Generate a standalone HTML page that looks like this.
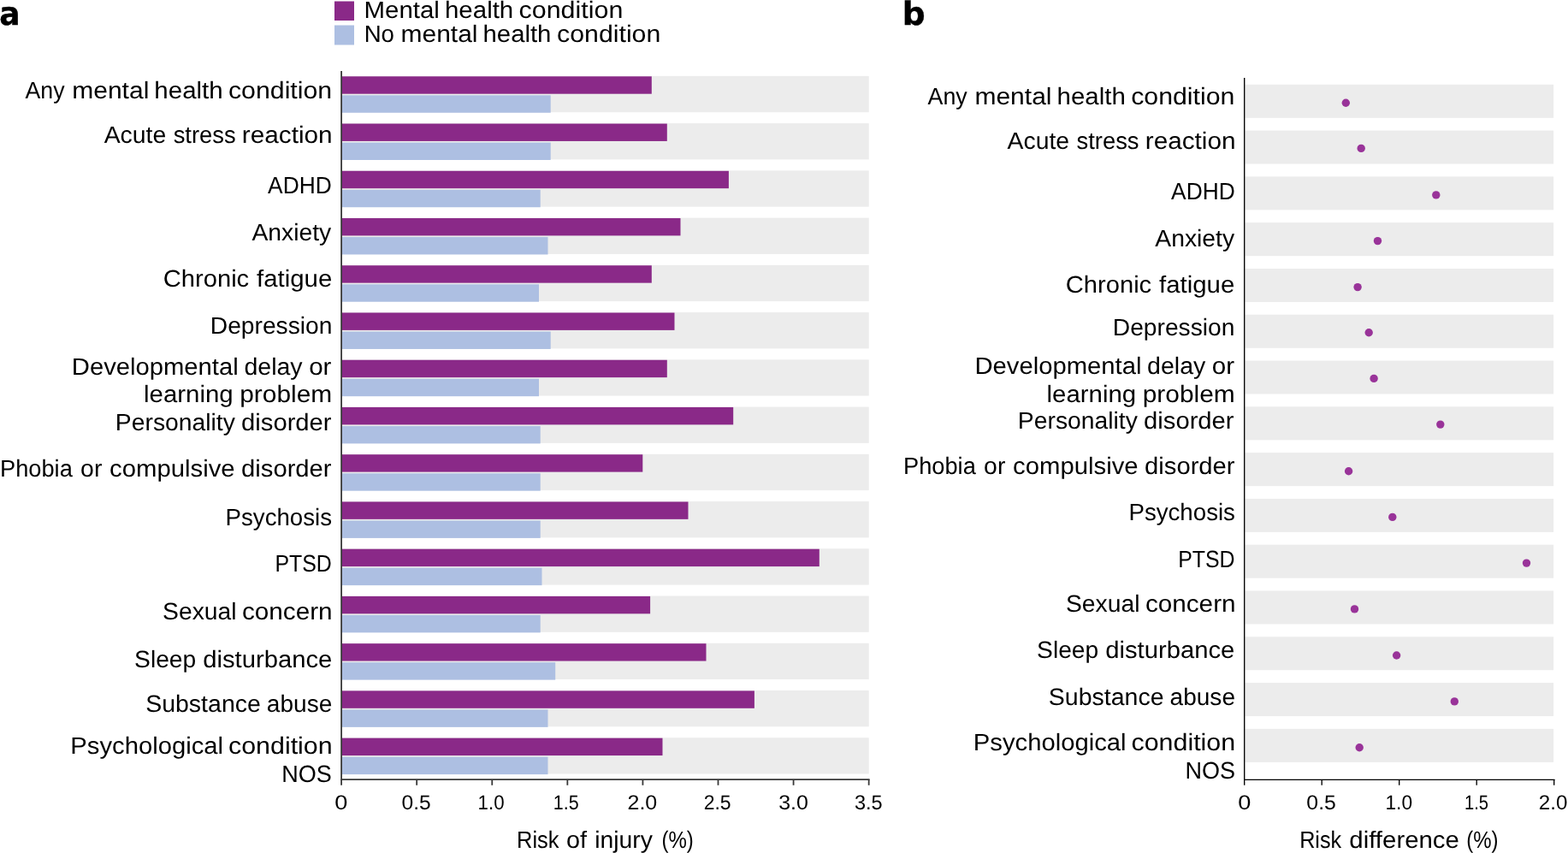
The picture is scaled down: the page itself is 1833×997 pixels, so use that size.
<!DOCTYPE html>
<html lang="en">
<head>
<meta charset="utf-8">
<title>Risk of injury by mental health condition</title>
<style>
html,body{margin:0;padding:0;background:#fff;}
body{width:1833px;height:997px;overflow:hidden;}
svg{display:block;position:absolute;left:0;top:0;}
text{font-family:'Liberation Sans', sans-serif;fill:#000;text-rendering:geometricPrecision;}
</style>
</head>
<body>
<svg width="1833" height="997" viewBox="0 0 1833 997">
<rect x="0" y="0" width="1833" height="997" fill="#ffffff"/>
<g id="panel-a">
<rect x="399.1" y="88.90" width="616.6" height="42.3" fill="#ececec"/>
<rect x="399.1" y="89.30" width="362.7" height="20.4" fill="#8a2988"/>
<rect x="399.1" y="111.35" width="244.6" height="20.4" fill="#adbfe2"/>
<rect x="399.1" y="144.14" width="616.6" height="42.3" fill="#ececec"/>
<rect x="399.1" y="144.54" width="380.7" height="20.4" fill="#8a2988"/>
<rect x="399.1" y="166.59" width="244.6" height="20.4" fill="#adbfe2"/>
<rect x="399.1" y="199.38" width="616.6" height="42.3" fill="#ececec"/>
<rect x="399.1" y="199.78" width="452.8" height="20.4" fill="#8a2988"/>
<rect x="399.1" y="221.83" width="232.6" height="20.4" fill="#adbfe2"/>
<rect x="399.1" y="254.62" width="616.6" height="42.3" fill="#ececec"/>
<rect x="399.1" y="255.02" width="396.4" height="20.4" fill="#8a2988"/>
<rect x="399.1" y="277.07" width="241.4" height="20.4" fill="#adbfe2"/>
<rect x="399.1" y="309.86" width="616.6" height="42.3" fill="#ececec"/>
<rect x="399.1" y="310.26" width="362.7" height="20.4" fill="#8a2988"/>
<rect x="399.1" y="332.31" width="230.9" height="20.4" fill="#adbfe2"/>
<rect x="399.1" y="365.10" width="616.6" height="42.3" fill="#ececec"/>
<rect x="399.1" y="365.50" width="389.4" height="20.4" fill="#8a2988"/>
<rect x="399.1" y="387.55" width="244.6" height="20.4" fill="#adbfe2"/>
<rect x="399.1" y="420.34" width="616.6" height="42.3" fill="#ececec"/>
<rect x="399.1" y="420.74" width="380.7" height="20.4" fill="#8a2988"/>
<rect x="399.1" y="442.79" width="230.9" height="20.4" fill="#adbfe2"/>
<rect x="399.1" y="475.58" width="616.6" height="42.3" fill="#ececec"/>
<rect x="399.1" y="475.98" width="458.1" height="20.4" fill="#8a2988"/>
<rect x="399.1" y="498.03" width="232.6" height="20.4" fill="#adbfe2"/>
<rect x="399.1" y="530.82" width="616.6" height="42.3" fill="#ececec"/>
<rect x="399.1" y="531.22" width="352.2" height="20.4" fill="#8a2988"/>
<rect x="399.1" y="553.27" width="232.6" height="20.4" fill="#adbfe2"/>
<rect x="399.1" y="586.06" width="616.6" height="42.3" fill="#ececec"/>
<rect x="399.1" y="586.46" width="405.4" height="20.4" fill="#8a2988"/>
<rect x="399.1" y="608.51" width="232.6" height="20.4" fill="#adbfe2"/>
<rect x="399.1" y="641.30" width="616.6" height="42.3" fill="#ececec"/>
<rect x="399.1" y="641.70" width="558.7" height="20.4" fill="#8a2988"/>
<rect x="399.1" y="663.75" width="234.4" height="20.4" fill="#adbfe2"/>
<rect x="399.1" y="696.54" width="616.6" height="42.3" fill="#ececec"/>
<rect x="399.1" y="696.94" width="361.0" height="20.4" fill="#8a2988"/>
<rect x="399.1" y="718.99" width="232.6" height="20.4" fill="#adbfe2"/>
<rect x="399.1" y="751.78" width="616.6" height="42.3" fill="#ececec"/>
<rect x="399.1" y="752.18" width="426.4" height="20.4" fill="#8a2988"/>
<rect x="399.1" y="774.23" width="250.1" height="20.4" fill="#adbfe2"/>
<rect x="399.1" y="807.02" width="616.6" height="42.3" fill="#ececec"/>
<rect x="399.1" y="807.42" width="482.8" height="20.4" fill="#8a2988"/>
<rect x="399.1" y="829.47" width="241.4" height="20.4" fill="#adbfe2"/>
<rect x="399.1" y="862.26" width="616.6" height="42.3" fill="#ececec"/>
<rect x="399.1" y="862.66" width="375.4" height="20.4" fill="#8a2988"/>
<rect x="399.1" y="884.71" width="241.4" height="20.4" fill="#adbfe2"/>
<path d="M399.1 83 V911.2 H1016.6" fill="none" stroke="#383838" stroke-width="1.8"/>
<path d="M399.10 911 V917.8" fill="none" stroke="#383838" stroke-width="1.8"/>
<path d="M487.18 911 V917.8" fill="none" stroke="#383838" stroke-width="1.8"/>
<path d="M575.26 911 V917.8" fill="none" stroke="#383838" stroke-width="1.8"/>
<path d="M663.34 911 V917.8" fill="none" stroke="#383838" stroke-width="1.8"/>
<path d="M751.42 911 V917.8" fill="none" stroke="#383838" stroke-width="1.8"/>
<path d="M839.50 911 V917.8" fill="none" stroke="#383838" stroke-width="1.8"/>
<path d="M927.58 911 V917.8" fill="none" stroke="#383838" stroke-width="1.8"/>
<path d="M1015.66 911 V917.8" fill="none" stroke="#383838" stroke-width="1.8"/>
</g>
<rect x="391" y="1.5" width="23" height="22.5" fill="#8a2988"/>
<rect x="391" y="29.5" width="23" height="23" fill="#adbfe2"/>
<g id="panel-b">
<rect x="1455.5" y="98.80" width="360.6" height="39.0" fill="#ececec"/>
<rect x="1455.5" y="152.59" width="360.6" height="39.0" fill="#ececec"/>
<rect x="1455.5" y="206.38" width="360.6" height="39.0" fill="#ececec"/>
<rect x="1455.5" y="260.17" width="360.6" height="39.0" fill="#ececec"/>
<rect x="1455.5" y="313.96" width="360.6" height="39.0" fill="#ececec"/>
<rect x="1455.5" y="367.75" width="360.6" height="39.0" fill="#ececec"/>
<rect x="1455.5" y="421.54" width="360.6" height="39.0" fill="#ececec"/>
<rect x="1455.5" y="475.33" width="360.6" height="39.0" fill="#ececec"/>
<rect x="1455.5" y="529.12" width="360.6" height="39.0" fill="#ececec"/>
<rect x="1455.5" y="582.91" width="360.6" height="39.0" fill="#ececec"/>
<rect x="1455.5" y="636.70" width="360.6" height="39.0" fill="#ececec"/>
<rect x="1455.5" y="690.49" width="360.6" height="39.0" fill="#ececec"/>
<rect x="1455.5" y="744.28" width="360.6" height="39.0" fill="#ececec"/>
<rect x="1455.5" y="798.07" width="360.6" height="39.0" fill="#ececec"/>
<rect x="1455.5" y="851.86" width="360.6" height="39.0" fill="#ececec"/>
<circle cx="1573.3" cy="120.3" r="4.7" fill="#993399"/>
<circle cx="1591.2" cy="173.4" r="4.7" fill="#993399"/>
<circle cx="1678.8" cy="227.9" r="4.7" fill="#993399"/>
<circle cx="1610.5" cy="281.6" r="4.7" fill="#993399"/>
<circle cx="1587.1" cy="335.6" r="4.7" fill="#993399"/>
<circle cx="1600.2" cy="388.7" r="4.7" fill="#993399"/>
<circle cx="1606.1" cy="442.4" r="4.7" fill="#993399"/>
<circle cx="1683.8" cy="496.1" r="4.7" fill="#993399"/>
<circle cx="1576.6" cy="550.7" r="4.7" fill="#993399"/>
<circle cx="1627.8" cy="604.4" r="4.7" fill="#993399"/>
<circle cx="1784.5" cy="658.1" r="4.7" fill="#993399"/>
<circle cx="1583.5" cy="711.9" r="4.7" fill="#993399"/>
<circle cx="1632.6" cy="766.0" r="4.7" fill="#993399"/>
<circle cx="1700.3" cy="819.9" r="4.7" fill="#993399"/>
<circle cx="1589.2" cy="873.8" r="4.7" fill="#993399"/>
<path d="M1454.7 91 V911.3 H1817.5" fill="none" stroke="#000000" stroke-width="1.35"/>
<path d="M1454.70 911 V917.8" fill="none" stroke="#000000" stroke-width="1.35"/>
<path d="M1545.20 911 V917.8" fill="none" stroke="#000000" stroke-width="1.35"/>
<path d="M1635.70 911 V917.8" fill="none" stroke="#000000" stroke-width="1.35"/>
<path d="M1726.20 911 V917.8" fill="none" stroke="#000000" stroke-width="1.35"/>
<path d="M1816.70 911 V917.8" fill="none" stroke="#000000" stroke-width="1.35"/>
</g>
<g id="legend-text">
<text y="20.80" font-size="27.8"><tspan x="425.49" textLength="88.42" lengthAdjust="spacingAndGlyphs">Mental</tspan> <tspan x="519.99" textLength="80.27" lengthAdjust="spacingAndGlyphs">health</tspan> <tspan x="606.58" textLength="121.74" lengthAdjust="spacingAndGlyphs">condition</tspan></text>
<text y="48.90" font-size="27.8"><tspan x="425.64" textLength="35.31" lengthAdjust="spacingAndGlyphs">No</tspan> <tspan x="468.50" textLength="90.04" lengthAdjust="spacingAndGlyphs">mental</tspan> <tspan x="564.50" textLength="79.95" lengthAdjust="spacingAndGlyphs">health</tspan> <tspan x="651.09" textLength="121.22" lengthAdjust="spacingAndGlyphs">condition</tspan></text>
</g>
<g id="labels-a">
<text y="115.00" font-size="27.8"><tspan x="29.42" textLength="46.12" lengthAdjust="spacingAndGlyphs">Any</tspan> <tspan x="84.20" textLength="90.15" lengthAdjust="spacingAndGlyphs">mental</tspan> <tspan x="180.39" textLength="80.27" lengthAdjust="spacingAndGlyphs">health</tspan> <tspan x="266.99" textLength="121.22" lengthAdjust="spacingAndGlyphs">condition</tspan></text>
<text y="167.00" font-size="27.8"><tspan x="121.71" textLength="72.54" lengthAdjust="spacingAndGlyphs">Acute</tspan> <tspan x="202.63" textLength="73.04" lengthAdjust="spacingAndGlyphs">stress</tspan> <tspan x="282.82" textLength="105.85" lengthAdjust="spacingAndGlyphs">reaction</tspan></text>
<text y="226.10" font-size="27.8"><tspan x="313.09" textLength="74.60" lengthAdjust="spacingAndGlyphs">ADHD</tspan></text>
<text y="280.80" font-size="27.8"><tspan x="294.41" textLength="92.76" lengthAdjust="spacingAndGlyphs">Anxiety</tspan></text>
<text y="335.00" font-size="27.8"><tspan x="190.79" textLength="100.41" lengthAdjust="spacingAndGlyphs">Chronic</tspan> <tspan x="300.11" textLength="88.19" lengthAdjust="spacingAndGlyphs">fatigue</tspan></text>
<text y="389.70" font-size="27.8"><tspan x="245.79" textLength="142.64" lengthAdjust="spacingAndGlyphs">Depression</tspan></text>
<text y="437.80" font-size="27.8"><tspan x="83.81" textLength="194.95" lengthAdjust="spacingAndGlyphs">Developmental</tspan> <tspan x="285.41" textLength="68.20" lengthAdjust="spacingAndGlyphs">delay</tspan> <tspan x="361.17" textLength="26.30" lengthAdjust="spacingAndGlyphs">or</tspan></text>
<text y="469.90" font-size="27.8"><tspan x="168.04" textLength="104.57" lengthAdjust="spacingAndGlyphs">learning</tspan> <tspan x="280.21" textLength="108.07" lengthAdjust="spacingAndGlyphs">problem</tspan></text>
<text y="503.00" font-size="27.8"><tspan x="134.89" textLength="139.96" lengthAdjust="spacingAndGlyphs">Personality</tspan> <tspan x="282.08" textLength="105.49" lengthAdjust="spacingAndGlyphs">disorder</tspan></text>
<text y="557.20" font-size="27.8"><tspan x="0.07" textLength="84.75" lengthAdjust="spacingAndGlyphs">Phobia</tspan> <tspan x="94.11" textLength="25.24" lengthAdjust="spacingAndGlyphs">or</tspan> <tspan x="128.13" textLength="146.45" lengthAdjust="spacingAndGlyphs">compulsive</tspan> <tspan x="282.08" textLength="105.49" lengthAdjust="spacingAndGlyphs">disorder</tspan></text>
<text y="614.00" font-size="27.8"><tspan x="263.54" textLength="124.52" lengthAdjust="spacingAndGlyphs">Psychosis</tspan></text>
<text y="668.30" font-size="27.8"><tspan x="321.46" textLength="66.36" lengthAdjust="spacingAndGlyphs">PTSD</tspan></text>
<text y="723.80" font-size="27.8"><tspan x="190.08" textLength="86.49" lengthAdjust="spacingAndGlyphs">Sexual</tspan> <tspan x="283.01" textLength="105.65" lengthAdjust="spacingAndGlyphs">concern</tspan></text>
<text y="779.80" font-size="27.8"><tspan x="157.08" textLength="72.17" lengthAdjust="spacingAndGlyphs">Sleep</tspan> <tspan x="237.18" textLength="151.18" lengthAdjust="spacingAndGlyphs">disturbance</tspan></text>
<text y="831.90" font-size="27.8"><tspan x="170.17" textLength="134.68" lengthAdjust="spacingAndGlyphs">Substance</tspan> <tspan x="311.89" textLength="76.41" lengthAdjust="spacingAndGlyphs">abuse</tspan></text>
<text y="880.60" font-size="27.8"><tspan x="82.31" textLength="178.72" lengthAdjust="spacingAndGlyphs">Psychological</tspan> <tspan x="266.98" textLength="121.74" lengthAdjust="spacingAndGlyphs">condition</tspan></text>
<text y="913.90" font-size="27.8"><tspan x="329.19" textLength="58.53" lengthAdjust="spacingAndGlyphs">NOS</tspan></text>
</g>
<g id="labels-b">
<text y="122.00" font-size="27.8"><tspan x="1084.62" textLength="46.12" lengthAdjust="spacingAndGlyphs">Any</tspan> <tspan x="1139.40" textLength="90.15" lengthAdjust="spacingAndGlyphs">mental</tspan> <tspan x="1235.59" textLength="80.27" lengthAdjust="spacingAndGlyphs">health</tspan> <tspan x="1322.19" textLength="121.22" lengthAdjust="spacingAndGlyphs">condition</tspan></text>
<text y="174.00" font-size="27.8"><tspan x="1177.61" textLength="72.54" lengthAdjust="spacingAndGlyphs">Acute</tspan> <tspan x="1258.53" textLength="73.04" lengthAdjust="spacingAndGlyphs">stress</tspan> <tspan x="1338.72" textLength="105.85" lengthAdjust="spacingAndGlyphs">reaction</tspan></text>
<text y="233.10" font-size="27.8"><tspan x="1369.09" textLength="74.60" lengthAdjust="spacingAndGlyphs">ADHD</tspan></text>
<text y="287.80" font-size="27.8"><tspan x="1350.31" textLength="92.76" lengthAdjust="spacingAndGlyphs">Anxiety</tspan></text>
<text y="341.60" font-size="27.8"><tspan x="1245.79" textLength="100.41" lengthAdjust="spacingAndGlyphs">Chronic</tspan> <tspan x="1355.11" textLength="88.19" lengthAdjust="spacingAndGlyphs">fatigue</tspan></text>
<text y="391.90" font-size="27.8"><tspan x="1300.79" textLength="142.64" lengthAdjust="spacingAndGlyphs">Depression</tspan></text>
<text y="436.70" font-size="27.8"><tspan x="1139.51" textLength="194.95" lengthAdjust="spacingAndGlyphs">Developmental</tspan> <tspan x="1341.11" textLength="68.20" lengthAdjust="spacingAndGlyphs">delay</tspan> <tspan x="1416.87" textLength="26.30" lengthAdjust="spacingAndGlyphs">or</tspan></text>
<text y="469.50" font-size="27.8"><tspan x="1223.54" textLength="104.57" lengthAdjust="spacingAndGlyphs">learning</tspan> <tspan x="1335.71" textLength="108.07" lengthAdjust="spacingAndGlyphs">problem</tspan></text>
<text y="500.80" font-size="27.8"><tspan x="1189.89" textLength="139.96" lengthAdjust="spacingAndGlyphs">Personality</tspan> <tspan x="1337.08" textLength="105.49" lengthAdjust="spacingAndGlyphs">disorder</tspan></text>
<text y="553.90" font-size="27.8"><tspan x="1056.07" textLength="84.75" lengthAdjust="spacingAndGlyphs">Phobia</tspan> <tspan x="1150.11" textLength="25.24" lengthAdjust="spacingAndGlyphs">or</tspan> <tspan x="1184.13" textLength="146.45" lengthAdjust="spacingAndGlyphs">compulsive</tspan> <tspan x="1338.08" textLength="105.49" lengthAdjust="spacingAndGlyphs">disorder</tspan></text>
<text y="607.90" font-size="27.8"><tspan x="1319.44" textLength="124.52" lengthAdjust="spacingAndGlyphs">Psychosis</tspan></text>
<text y="662.80" font-size="27.8"><tspan x="1377.16" textLength="66.36" lengthAdjust="spacingAndGlyphs">PTSD</tspan></text>
<text y="714.60" font-size="27.8"><tspan x="1245.98" textLength="86.49" lengthAdjust="spacingAndGlyphs">Sexual</tspan> <tspan x="1338.91" textLength="105.65" lengthAdjust="spacingAndGlyphs">concern</tspan></text>
<text y="768.90" font-size="27.8"><tspan x="1212.08" textLength="72.17" lengthAdjust="spacingAndGlyphs">Sleep</tspan> <tspan x="1292.18" textLength="151.18" lengthAdjust="spacingAndGlyphs">disturbance</tspan></text>
<text y="823.50" font-size="27.8"><tspan x="1225.87" textLength="134.68" lengthAdjust="spacingAndGlyphs">Substance</tspan> <tspan x="1367.59" textLength="76.41" lengthAdjust="spacingAndGlyphs">abuse</tspan></text>
<text y="876.70" font-size="27.8"><tspan x="1137.81" textLength="178.72" lengthAdjust="spacingAndGlyphs">Psychological</tspan> <tspan x="1322.48" textLength="121.74" lengthAdjust="spacingAndGlyphs">condition</tspan></text>
<text y="909.50" font-size="27.8"><tspan x="1385.49" textLength="58.53" lengthAdjust="spacingAndGlyphs">NOS</tspan></text>
</g>
<g id="ticks-a">
<text y="945.90" font-size="23.8"><tspan x="391.26" textLength="15.10" lengthAdjust="spacingAndGlyphs">0</tspan></text>
<text y="945.90" font-size="23.8"><tspan x="469.52" textLength="34.22" lengthAdjust="spacingAndGlyphs">0.5</tspan></text>
<text y="945.90" font-size="23.8"><tspan x="558.58" textLength="30.97" lengthAdjust="spacingAndGlyphs">1.0</tspan></text>
<text y="945.90" font-size="23.8"><tspan x="646.84" textLength="29.87" lengthAdjust="spacingAndGlyphs">1.5</tspan></text>
<text y="945.90" font-size="23.8"><tspan x="733.50" textLength="34.75" lengthAdjust="spacingAndGlyphs">2.0</tspan></text>
<text y="945.90" font-size="23.8"><tspan x="822.70" textLength="31.97" lengthAdjust="spacingAndGlyphs">2.5</tspan></text>
<text y="945.90" font-size="23.8"><tspan x="910.15" textLength="34.70" lengthAdjust="spacingAndGlyphs">3.0</tspan></text>
<text y="945.90" font-size="23.8"><tspan x="999.01" textLength="32.68" lengthAdjust="spacingAndGlyphs">3.5</tspan></text>
</g>
<g id="ticks-b">
<text y="945.80" font-size="23.8"><tspan x="1447.16" textLength="15.10" lengthAdjust="spacingAndGlyphs">0</tspan></text>
<text y="945.80" font-size="23.8"><tspan x="1527.36" textLength="34.49" lengthAdjust="spacingAndGlyphs">0.5</tspan></text>
<text y="945.80" font-size="23.8"><tspan x="1619.44" textLength="31.62" lengthAdjust="spacingAndGlyphs">1.0</tspan></text>
<text y="945.80" font-size="23.8"><tspan x="1711.94" textLength="28.02" lengthAdjust="spacingAndGlyphs">1.5</tspan></text>
<text y="945.80" font-size="23.8"><tspan x="1798.84" textLength="33.58" lengthAdjust="spacingAndGlyphs">2.0</tspan></text>
</g>
<g id="axis-titles">
<text y="990.80" font-size="27.8"><tspan x="604.01" textLength="49.52" lengthAdjust="spacingAndGlyphs">Risk</tspan> <tspan x="662.10" textLength="24.02" lengthAdjust="spacingAndGlyphs">of</tspan> <tspan x="695.21" textLength="67.67" lengthAdjust="spacingAndGlyphs">injury</tspan> <tspan x="773.41" textLength="37.39" lengthAdjust="spacingAndGlyphs">(%)</tspan></text>
<text y="990.60" font-size="27.8"><tspan x="1519.13" textLength="49.10" lengthAdjust="spacingAndGlyphs">Risk</tspan> <tspan x="1577.37" textLength="128.56" lengthAdjust="spacingAndGlyphs">difference</tspan> <tspan x="1714.21" textLength="37.28" lengthAdjust="spacingAndGlyphs">(%)</tspan></text>
</g>
<g font-family="'DejaVu Sans', 'Liberation Sans', sans-serif" font-weight="bold" font-size="37.6" stroke="#000" stroke-width="0.4">
<text transform="translate(-0.7 29) scale(0.96 1)" style="font-family:inherit">a</text>
<text x="1054.7" y="29" style="font-family:inherit">b</text>
</g>
</svg>
</body>
</html>
